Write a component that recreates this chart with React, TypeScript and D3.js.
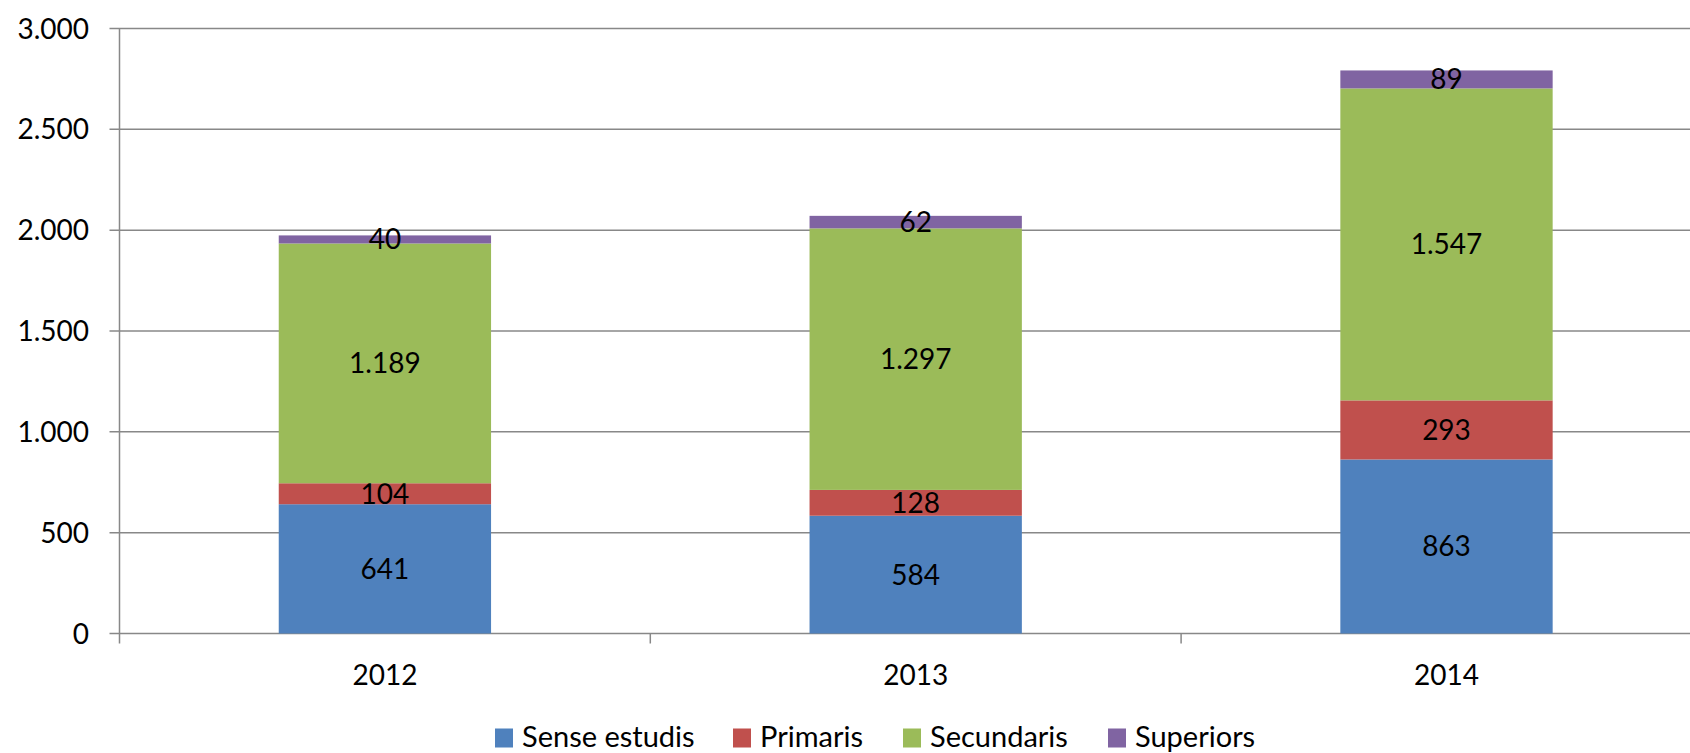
import React, { useEffect, useRef } from "react";
import * as d3 from "d3";

const years = ["2012", "2013", "2014"];
const seriesNames = ["Sense estudis", "Primaris", "Secundaris", "Superiors"];
const senseEstudis = [641, 584, 863];
const primaris = [104, 128, 293];
const secundaris = [1189, 1297, 1547];
const superiors = [40, 62, 89];
const yTicks = [0, 500, 1000, 1500, 2000, 2500, 3000];
const colors = ["#4F81BD", "#C0504D", "#9BBB59", "#8064A2"];

const W = 1690;
const H = 753;
const FONT = "Lato, 'Open Sans', sans-serif";

const App = () => {
    const svgRef = useRef<SVGSVGElement>(null);

    useEffect(() => {
        const svg = d3.select(svgRef.current);
        svg.selectAll("*").remove();

        const left = 119.5;
        const top = 28.5;
        const bottom = 633.5;
        // plot runs off the right edge of the picture
        const right = left + 3 * 530.8;

        const rows = years.map((y, i) => ({
            year: y,
            "Sense estudis": senseEstudis[i],
            Primaris: primaris[i],
            Secundaris: secundaris[i],
            Superiors: superiors[i],
        }));
        const stacked = d3.stack<any>().keys(seriesNames)(rows);

        const x = d3.scaleBand().domain(years).range([left, right]).paddingInner(0.6).paddingOuter(0.3);
        const band = d3.scaleBand().domain(years).range([left, right]);
        const y = d3.scaleLinear().domain([0, 3000]).range([bottom, top]);

        // gridlines
        svg.append("g")
            .selectAll("line")
            .data(yTicks)
            .enter().append("line")
            .attr("x1", left - 10)
            .attr("x2", W)
            .attr("y1", d => y(d))
            .attr("y2", d => y(d))
            .attr("stroke", "#888")
            .attr("stroke-width", 1.5);

        // y axis line
        svg.append("line")
            .attr("x1", left).attr("x2", left)
            .attr("y1", top).attr("y2", bottom + 10)
            .attr("stroke", "#888").attr("stroke-width", 1.5);

        // category ticks
        svg.append("g")
            .selectAll("line")
            .data(years.slice(1))
            .enter().append("line")
            .attr("x1", d => band(d)!)
            .attr("x2", d => band(d)!)
            .attr("y1", bottom)
            .attr("y2", bottom + 10)
            .attr("stroke", "#888").attr("stroke-width", 1.5);

        // y labels
        const fmt = (v: number) => v.toLocaleString("de-DE");
        svg.append("g")
            .selectAll("text")
            .data(yTicks)
            .enter().append("text")
            .attr("x", 89)
            .attr("y", d => y(d) + 10)
            .attr("text-anchor", "end")
            .style("font-size", "28px")
            .attr("font-family", FONT)
            .text(d => fmt(d));

        // x labels
        svg.append("g")
            .selectAll("text")
            .data(years)
            .enter().append("text")
            .attr("x", d => band(d)! + band.bandwidth() / 2)
            .attr("y", 685)
            .attr("text-anchor", "middle")
            .style("font-size", "28px")
            .attr("font-family", FONT)
            .text(d => d);

        // bars
        stacked.forEach((s, si) => {
            const g = svg.append("g");
            g.selectAll("rect")
                .data(s)
                .enter().append("rect")
                .attr("x", d => x(d.data.year)!)
                .attr("width", x.bandwidth())
                .attr("y", d => y(d[1]))
                .attr("height", d => y(d[0]) - y(d[1]))
                .attr("fill", colors[si]);
            g.selectAll("text")
                .data(s)
                .enter().append("text")
                .attr("x", d => x(d.data.year)! + x.bandwidth() / 2)
                .attr("y", d => (y(d[0]) + y(d[1])) / 2 + 10)
                .attr("text-anchor", "middle")
                .style("font-size", "28px")
                .attr("font-family", FONT)
                .text(d => fmt(d[1] - d[0]));
        });

        // legend
        const legendX = [495, 733, 903, 1108];
        const lg = svg.append("g");
        seriesNames.forEach((name, i) => {
            lg.append("rect")
                .attr("x", legendX[i])
                .attr("y", 728.5)
                .attr("width", 18)
                .attr("height", 19)
                .attr("fill", colors[i]);
            lg.append("text")
                .attr("x", legendX[i] + 27)
                .attr("y", 747)
                .style("font-size", "29px")
                .attr("font-family", FONT)
                .text(name);
        });
    }, []);

    return (
        <svg
            ref={svgRef}
            width={W}
            height={H}
            style={{ position: "absolute", left: 0, top: 0, background: "#fff" }}
        ></svg>
    );
};

export default App;
